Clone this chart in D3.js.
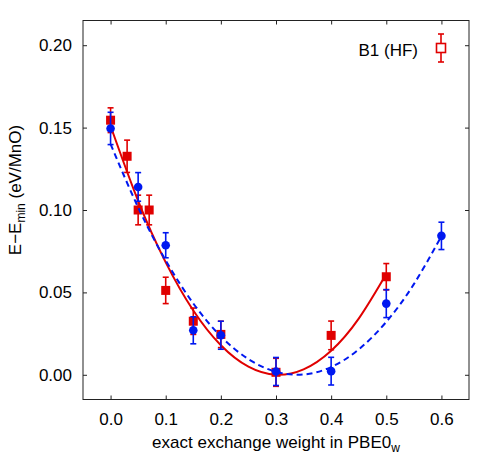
<!DOCTYPE html>
<html><head><meta charset="utf-8">
<script src="https://cdn.jsdelivr.net/npm/d3@7"></script>
<style>body{margin:0;background:#fff}svg{display:block}text{font-family:"Liberation Sans",Arial,sans-serif;fill:#000}</style>
</head><body><svg id="c" width="500" height="454"></svg>
<script>
// Red series: B1 (HF)
const redX = [0.0, 0.03, 0.05, 0.07, 0.1, 0.15, 0.2, 0.3, 0.4, 0.5];
const redY = [0.1545, 0.1326, 0.1000, 0.1000, 0.0512, 0.0325, 0.0245, 0.0015, 0.0239, 0.0595];
const redErr = [0.0075, 0.0098, 0.009, 0.009, 0.008, 0.008, 0.008, 0.0085, 0.0087, 0.008];
// Blue series
const blueX = [0.0, 0.05, 0.1, 0.15, 0.2, 0.3, 0.4, 0.5, 0.6];
const blueY = [0.1495, 0.1140, 0.0786, 0.0270, 0.0240, 0.0020, 0.0022, 0.0432, 0.0843];
const blueErr = [0.0098, 0.0087, 0.0076, 0.0082, 0.0085, 0.0085, 0.0084, 0.0085, 0.0083];
// Fit curves
const redFitX = [0.0, 0.05, 0.1, 0.15, 0.2, 0.25, 0.3, 0.35, 0.4, 0.45, 0.5];
const redFitY = [0.151, 0.1055, 0.0682, 0.039, 0.0179, 0.0049, 0.0, 0.0033, 0.0146, 0.0341, 0.0612];
const blueFitX = [0.0, 0.05, 0.1, 0.15, 0.2, 0.25, 0.3, 0.35, 0.4, 0.45, 0.5, 0.55, 0.6];
const blueFitY = [0.140, 0.1016, 0.0694, 0.0433, 0.0233, 0.0095, 0.0018, 0.0002, 0.0047, 0.0154, 0.0321, 0.055, 0.0841];
const xTicks = [0.0, 0.1, 0.2, 0.3, 0.4, 0.5, 0.6];
const yTicks = [0.00, 0.05, 0.10, 0.15, 0.20];
const legendLabel = "B1 (HF)";

const RED = "#e00000", BLUE = "#0018f0";
const FS = "17px", SUB = "12px";
const svg = d3.select("#c");
const L = 83, R = 469, T = 20.5, B = 399.5;
const x = d3.scaleLinear().domain([-0.05, 0.65]).range([L, R]);
const y = d3.scaleLinear().domain([-0.015, 0.215]).range([B, T]);

const axisStyle = g => {
  g.selectAll(".domain").remove();
  g.selectAll(".tick line").attr("stroke", "#222").attr("stroke-width", 1);
  g.selectAll(".tick text").style("font-size", FS).style("font-family", '"Liberation Sans",Arial,sans-serif');
};
// bottom axis (ticks inward)
svg.append("g").attr("transform", `translate(0,${B})`)
  .call(d3.axisBottom(x).tickValues(xTicks).tickFormat(d3.format(".1f")).tickSizeInner(-4).tickSizeOuter(0).tickPadding(13))
  .call(axisStyle);
svg.append("g").attr("transform", `translate(0,${T})`)
  .call(d3.axisTop(x).tickValues(xTicks).tickFormat("").tickSizeInner(-4).tickSizeOuter(0))
  .call(axisStyle);
svg.append("g").attr("transform", `translate(${L},0)`)
  .call(d3.axisLeft(y).tickValues(yTicks).tickFormat(d3.format(".2f")).tickSizeInner(-4).tickSizeOuter(0).tickPadding(11))
  .call(axisStyle);
svg.append("g").attr("transform", `translate(${R},0)`)
  .call(d3.axisRight(y).tickValues(yTicks).tickFormat("").tickSizeInner(-4).tickSizeOuter(0))
  .call(axisStyle);
svg.append("rect").attr("x", L).attr("y", T).attr("width", R - L).attr("height", B - T)
  .attr("fill", "none").attr("stroke", "#222").attr("stroke-width", 1);

// axis titles
const xt = svg.append("text").attr("x", (L + R) / 2).attr("y", 448).attr("text-anchor", "middle").style("font-size", FS);
xt.append("tspan").text("exact exchange weight in PBE0");
xt.append("tspan").attr("dy", 4).style("font-size", SUB).text("w");
const yt = svg.append("text").attr("transform", `translate(21,190) rotate(-90)`).attr("text-anchor", "middle").style("font-size", FS);
yt.append("tspan").text("E\u2212E");
yt.append("tspan").attr("dy", 4).style("font-size", SUB).text("min");
yt.append("tspan").attr("dy", -4).text(" (eV/MnO)");

const plot = svg.append("g");
function errorBars(xs, ys, es, color) {
  const g = plot.append("g").attr("stroke", color).attr("stroke-width", 1.6);
  xs.forEach((xv, i) => {
    const cx = x(xv), y1 = y(ys[i] + es[i]), y2 = y(ys[i] - es[i]);
    g.append("line").attr("x1", cx).attr("x2", cx).attr("y1", y1).attr("y2", y2);
    g.append("line").attr("x1", cx - 3).attr("x2", cx + 3).attr("y1", y1).attr("y2", y1);
    g.append("line").attr("x1", cx - 3).attr("x2", cx + 3).attr("y1", y2).attr("y2", y2);
  });
}
const line = d3.line().x(d => x(d[0])).y(d => y(d[1])).curve(d3.curveNatural);

// red series
errorBars(redX, redY, redErr, RED);
plot.append("g").selectAll("rect").data(redX).join("rect")
  .attr("x", d => x(d) - 4.5).attr("y", (d, i) => y(redY[i]) - 4.5)
  .attr("width", 9).attr("height", 9).attr("fill", RED);
plot.append("path").datum(redFitX.map((d, i) => [d, redFitY[i]])).attr("d", line)
  .attr("fill", "none").attr("stroke", RED).attr("stroke-width", 2);

// blue series
errorBars(blueX, blueY, blueErr, BLUE);
plot.append("g").selectAll("circle").data(blueX).join("circle")
  .attr("cx", d => x(d)).attr("cy", (d, i) => y(blueY[i])).attr("r", 4.3).attr("fill", BLUE);
plot.append("path").datum(blueFitX.map((d, i) => [d, blueFitY[i]])).attr("d", line)
  .attr("fill", "none").attr("stroke", BLUE).attr("stroke-width", 2).attr("stroke-dasharray", "6,4");

// legend
const lg = svg.append("g");
lg.append("text").attr("x", 418).attr("y", 56).attr("text-anchor", "end").style("font-size", FS).text(legendLabel);
lg.append("line").attr("x1", 441).attr("x2", 441).attr("y1", 34).attr("y2", 62).attr("stroke", RED).attr("stroke-width", 1.6);
lg.append("line").attr("x1", 438).attr("x2", 444).attr("y1", 34).attr("y2", 34).attr("stroke", RED).attr("stroke-width", 1.6);
lg.append("line").attr("x1", 438).attr("x2", 444).attr("y1", 62).attr("y2", 62).attr("stroke", RED).attr("stroke-width", 1.6);
lg.append("rect").attr("x", 436.5).attr("y", 43.5).attr("width", 9).attr("height", 9)
  .attr("fill", "#fff").attr("stroke", RED).attr("stroke-width", 1.6);
</script></body></html>
